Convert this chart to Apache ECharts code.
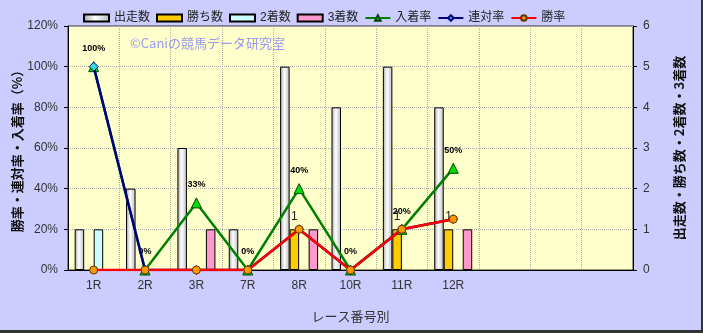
<!DOCTYPE html>
<html>
<head>
<meta charset="utf-8">
<script src="https://cdn.jsdelivr.net/npm/echarts@6/dist/echarts.min.js"></script>
<style>
html,body{margin:0;padding:0;background:#CCCCFF;}
#c{width:703px;height:333px;}
</style>
</head>
<body>
<div id="c"></div>
<script>
var categories = ['1R','2R','3R','7R','8R','10R','11R','12R','','',''];
var runs    = [1,2,3,1,5,4,5,4];
var wins    = [0,0,0,0,1,0,1,1];
var seconds = [1,0,0,0,0,0,0,0];
var thirds  = [0,0,1,0,1,0,0,1];
var placeRate = [100,0,33,0,40,0,20,50];
var rentaiRate = [100,0,0,0,20,0,20,25];
var winRate = [0,0,0,0,20,0,20,25];
var leftTicks = [0,20,40,60,80,100,120];
var rightTicks = [0,1,2,3,4,5,6];

var FONT = 'Liberation Sans, "Noto Sans CJK JP", sans-serif';
var chart = echarts.init(document.getElementById('c'), null, {renderer:'canvas'});

function hideZero(arr){ return arr.map(function(v){ return v === 0 ? null : v; }); }

function barSeries(name, data, color, extra) {
  var s = {
    name: name, type: 'bar', yAxisIndex: 1, data: hideZero(data),
    barWidth: 9.5, barGap: '0%',
    itemStyle: {color: color, borderColor: '#000', borderWidth: 1},
    z: 2
  };
  if (extra) for (var k in extra) s[k] = extra[k];
  return s;
}

var option = {
  animation: false,
  backgroundColor: '#CCCCFF',
  textStyle: {fontFamily: FONT},
  legend: {
    left: 78, top: 7, itemGap: 6,
    itemWidth: 25, itemHeight: 7,
    textStyle: {fontSize: 12, color: '#222', fontFamily: FONT},
    data: [
      {name:'出走数', icon:'rect'},
      {name:'勝ち数', icon:'rect'},
      {name:'2着数', icon:'rect'},
      {name:'3着数', icon:'rect'},
      {name:'入着率'},
      {name:'連対率'},
      {name:'勝率'}
    ]
  },
  grid: {
    left: 68, right: 70, top: 26, bottom: 63,
    containLabel: false, outerBoundsMode: 'none',
    show: true, backgroundColor: '#FFFFCC', borderColor: '#333', borderWidth: 1
  },
  graphic: [
    {type:'text', left: 130, top: 37, z: 1,
     style:{text:'©Caniの競馬データ研究室', fill:'#9999EE', font:'13px "Noto Sans CJK JP", sans-serif'}},
    {type:'rect', shape:{x:701,y:0,width:2,height:333}, style:{fill:'#333'}},
    {type:'rect', shape:{x:0,y:330,width:703,height:3}, style:{fill:'#333'}}
  ],
  xAxis: {
    type: 'category', data: categories,
    name: 'レース番号別', nameLocation: 'middle', nameGap: 40,
    nameTextStyle: {fontSize: 13, color: '#333', fontFamily: '"Noto Sans CJK JP", sans-serif'},
    axisLine: {lineStyle: {color: '#000'}},
    axisTick: {show: false},
    axisLabel: {fontSize: 12, color: '#333', margin: 10, fontFamily: FONT},
    splitLine: {show: true, interval: 0, lineStyle: {color: '#aaa', type: 'dotted'}}
  },
  yAxis: [
    {
      type: 'value', min: 0, max: 120, interval: 20, position: 'left',
      name: '勝率・連対率・入着率（%）', nameLocation: 'middle', nameGap: 44, nameRotate: 90,
      nameMoveOverlap: false,
      nameTextStyle: {fontSize: 13, fontWeight: 'bold', color: '#111', fontFamily: '"Noto Sans CJK JP", sans-serif'},
      axisLine: {show: true, lineStyle: {color: '#000'}},
      axisTick: {show: true, length: 4, lineStyle: {color: '#000'}},
      axisLabel: {formatter: '{value}%', fontSize: 12, color: '#333', margin: 10, fontFamily: FONT},
      splitLine: {show: true, lineStyle: {color: '#aaa', type: 'dotted'}}
    },
    {
      type: 'value', min: 0, max: 6, interval: 1, position: 'right',
      name: '出走数・勝ち数・2着数・3着数', nameLocation: 'middle', nameGap: 40, nameRotate: 90,
      nameTextStyle: {fontSize: 13, fontWeight: 'bold', color: '#111', fontFamily: '"Noto Sans CJK JP", sans-serif'},
      axisLine: {show: true, lineStyle: {color: '#000'}},
      axisTick: {show: true, length: 4, lineStyle: {color: '#000'}},
      axisLabel: {fontSize: 12, color: '#333', margin: 10, fontFamily: FONT},
      splitLine: {show: false}
    }
  ],
  series: [
    barSeries('出走数', runs, new echarts.graphic.LinearGradient(0,0,1,0,[
      {offset:0,color:'#a8a8a8'},{offset:0.45,color:'#ffffff'},{offset:1,color:'#b8b8b8'}])),
    barSeries('勝ち数', wins, '#FFCC00', {
      label: {show: true, position: 'top', distance: 7, fontSize: 12, color: '#222',
              formatter: function(p){ return p.value ? String(p.value) : ''; }}
    }),
    barSeries('2着数', seconds, '#CCFFFF'),
    barSeries('3着数', thirds, '#FF99CC'),
    {
      name: '入着率', type: 'line', yAxisIndex: 0, data: placeRate, z: 5,
      lineStyle: {color: '#008000', width: 2.5},
      itemStyle: {color: '#00DD00', borderColor: '#004400', borderWidth: 1},
      symbol: 'triangle', symbolSize: 10, showAllSymbol: true,
      label: {show: true, position: 'top', distance: 8, fontSize: 9, fontWeight: 'bold', color: '#000',
              formatter: '{c}%'}
    },
    {
      name: '連対率', type: 'line', yAxisIndex: 0, data: rentaiRate, z: 6,
      lineStyle: {color: '#000080', width: 2.5},
      itemStyle: {color: '#33DDDD', borderColor: '#000080', borderWidth: 1},
      symbol: 'diamond', symbolSize: 9, showAllSymbol: true
    },
    {
      name: '勝率', type: 'line', yAxisIndex: 0, data: winRate, z: 7,
      lineStyle: {color: '#FF0000', width: 2.5},
      itemStyle: {color: '#FF9900', borderColor: '#663300', borderWidth: 1},
      symbol: 'circle', symbolSize: 8, showAllSymbol: true
    }
  ]
};
chart.setOption(option);
</script>
</body>
</html>
